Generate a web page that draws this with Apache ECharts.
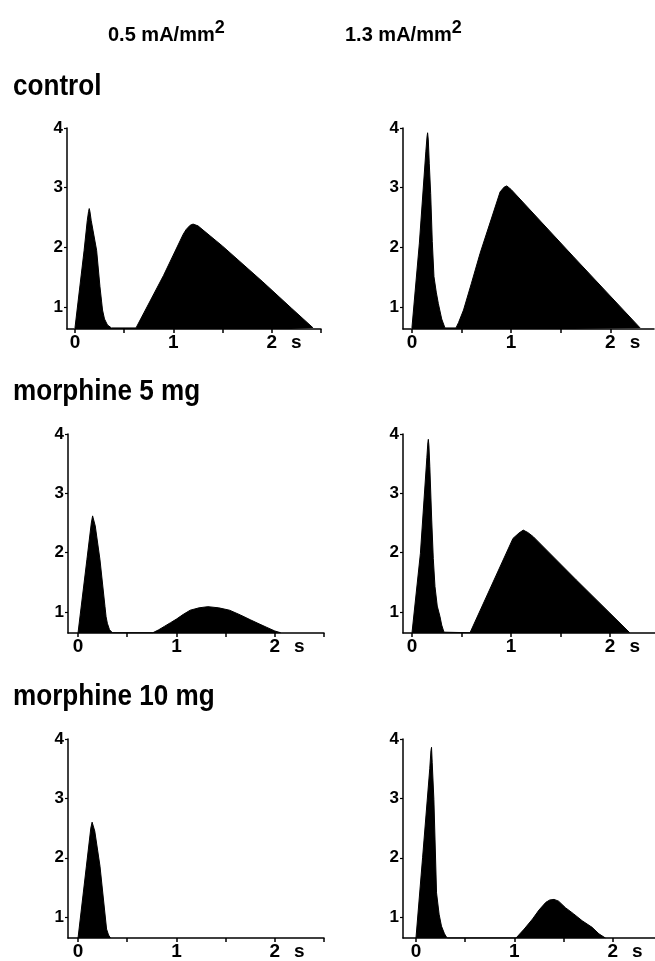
<!DOCTYPE html>
<html>
<head>
<meta charset="utf-8">
<script src="https://cdn.jsdelivr.net/npm/echarts@6/dist/echarts.min.js"></script>
<style>
html,body{margin:0;padding:0;background:#fff;}
#c{width:655px;height:961px;}
</style>
</head>
<body>
<div id="c"></div>
<script>
// ---- data (time in s, value in arbitrary units) ----
var columnTitles = ['0.5 mA/mm', '1.3 mA/mm'];
var rowTitles = ['control', 'morphine 5 mg', 'morphine 10 mg'];
var yTicks = [1, 2, 3, 4];
var xTicks = [0, 0.5, 1, 1.5, 2, 2.5];
var xLabels = [0, 1, 2, 2.25];

var control05 = [[0,0.65],[0.093,1.95],[0.125,2.45],[0.138,2.6],[0.145,2.65],[0.152,2.6],[0.165,2.45],[0.22,1.95],[0.254,1.34],[0.27,1.1],[0.28,0.95],[0.3,0.8],[0.33,0.7],[0.37,0.65],
  [0.62,0.65],[0.9,1.53],[1.1,2.22],[1.13,2.3],[1.17,2.37],[1.2,2.39],[1.25,2.36],[1.5,2.02],[1.91,1.42],[2.2,0.98],[2.42,0.65]];
var control13 = [[0,0.65],[0.075,2.07],[0.14,3.6],[0.152,3.85],[0.158,3.92],[0.165,3.8],[0.175,3.4],[0.189,2.9],[0.205,2.1],[0.222,1.51],[0.245,1.25],[0.266,1.06],[0.30,0.8],[0.333,0.65],
  [0.444,0.65],[0.47,0.74],[0.52,0.95],[0.6,1.4],[0.687,1.9],[0.889,2.93],[0.93,3.01],[0.956,3.03],[1.0,2.97],[1.63,1.84],[2.30,0.65]];
var morph5_05 = [[0,0.65],[0.09,1.88],[0.135,2.5],[0.148,2.62],[0.155,2.65],[0.162,2.6],[0.175,2.45],[0.223,1.88],[0.274,1.09],[0.285,0.92],[0.298,0.81],[0.32,0.7],[0.35,0.65],
  [0.76,0.65],[0.82,0.70],[0.88,0.76],[0.94,0.82],[1.0,0.88],[1.07,0.96],[1.14,1.03],[1.23,1.07],[1.32,1.09],[1.43,1.07],[1.54,1.03],[1.65,0.95],[1.75,0.87],[1.84,0.80],[1.92,0.74],[2.0,0.68],[2.06,0.65]];
var morph5_13 = [[0,0.65],[0.085,1.99],[0.15,3.6],[0.16,3.85],[0.165,3.91],[0.171,3.8],[0.18,3.45],[0.199,2.55],[0.215,1.9],[0.232,1.43],[0.255,1.1],[0.283,0.92],[0.3,0.78],[0.323,0.66],
  [0.586,0.65],[1.02,2.24],[1.08,2.33],[1.124,2.38],[1.17,2.34],[1.225,2.27],[1.66,1.54],[2.0,0.98],[2.2,0.65]];
var morph10_05 = [[0,0.65],[0.085,1.86],[0.13,2.5],[0.143,2.6],[0.149,2.63],[0.156,2.6],[0.17,2.45],[0.223,1.86],[0.29,0.80],[0.31,0.7],[0.33,0.65]];
var morph10_13 = [[0,0.65],[0.067,2.0],[0.14,3.5],[0.152,3.8],[0.158,3.86],[0.165,3.6],[0.182,2.98],[0.209,1.41],[0.235,1.05],[0.259,0.85],[0.29,0.72],[0.316,0.65],
  [1.017,0.65],[1.1,0.8],[1.185,0.97],[1.25,1.12],[1.32,1.25],[1.36,1.29],[1.404,1.30],[1.45,1.27],[1.52,1.16],[1.6,1.06],[1.69,0.94],[1.79,0.83],[1.86,0.72],[1.926,0.65]];

var panels = [control05, control13, morph5_05, morph5_13, morph10_05, morph10_13];

// ---- layout ----
var FONT = "'Liberation Sans', Arial, Helvetica, sans-serif";
var grids = [
  {left:67, top:128, width:254, height:201, xmin:-0.081, xmax:2.5,  ymin:0.632},
  {left:403,top:128, width:251, height:201, xmin:-0.09,  xmax:2.44, ymin:0.632},
  {left:68, top:434, width:256, height:199, xmin:-0.102, xmax:2.5,  ymin:0.646},
  {left:403,top:434, width:252, height:199, xmin:-0.091, xmax:2.455,ymin:0.646},
  {left:68, top:739, width:256, height:200, xmin:-0.102, xmax:2.5,  ymin:0.65},
  {left:403,top:739, width:252, height:200, xmin:-0.132, xmax:2.43, ymin:0.65}
];

var option = {
  backgroundColor:'#fff',
  animation:false,
  grid:[], xAxis:[], yAxis:[], series:[],
  graphic:[]
};

grids.forEach(function(g,i){
  option.grid.push({left:g.left, top:g.top, width:g.width, height:g.height, containLabel:false});
  option.xAxis.push({
    type:'value', gridIndex:i, min:g.xmin, max:g.xmax,
    axisLine:{show:true, onZero:false, lineStyle:{color:'#000', width:1.5}},
    axisTick:{show:true, length:4, customValues:xTicks, lineStyle:{color:'#000', width:1.5}},
    axisLabel:{show:true, customValues:xLabels, margin:4, color:'#000', fontFamily:FONT, fontWeight:'bold', fontSize:19,
      formatter:function(v){ return v===2.25 ? 's' : String(v); }},
    splitLine:{show:false}
  });
  option.yAxis.push({
    type:'value', gridIndex:i, min:g.ymin, max:4,
    axisLine:{show:true, onZero:false, lineStyle:{color:'#000', width:1.5}},
    axisTick:{show:true, length:3, customValues:yTicks, lineStyle:{color:'#000', width:1.2}},
    axisLabel:{show:true, customValues:yTicks, margin:4, color:'#000', fontFamily:FONT, fontWeight:'bold', fontSize:17},
    splitLine:{show:false}
  });
  option.series.push({
    type:'line', xAxisIndex:i, yAxisIndex:i, data:panels[i],
    symbol:'none', smooth:false, clip:true,
    lineStyle:{color:'#000', width:1},
    areaStyle:{color:'#000', opacity:1, origin:'start'}
  });
});

// column headers
[{x:108, t:columnTitles[0]},{x:345, t:columnTitles[1]}].forEach(function(h){
  option.graphic.push({
    type:'text', x:h.x, y:32,
    style:{
      text:'{a|'+h.t+'}{b|2}',
      verticalAlign:'middle',
      rich:{
        a:{fontFamily:FONT, fontWeight:'bold', fontSize:20, lineHeight:26, verticalAlign:'bottom', fill:'#000'},
        b:{fontFamily:FONT, fontWeight:'bold', fontSize:18, lineHeight:16, verticalAlign:'top', fill:'#000'}
      }
    }
  });
});

// row titles
[{y:86.9},{y:391.9},{y:696.9}].forEach(function(r,i){
  option.graphic.push({
    type:'text', x:13, y:r.y, scaleX:0.9,
    style:{text:rowTitles[i], fontFamily:FONT, fontWeight:'bold', fontSize:29, fill:'#000',
      textAlign:'left', verticalAlign:'middle'}
  });
});

var chart = echarts.init(document.getElementById('c'), null, {renderer:'canvas'});
chart.setOption(option);
</script>
</body>
</html>
